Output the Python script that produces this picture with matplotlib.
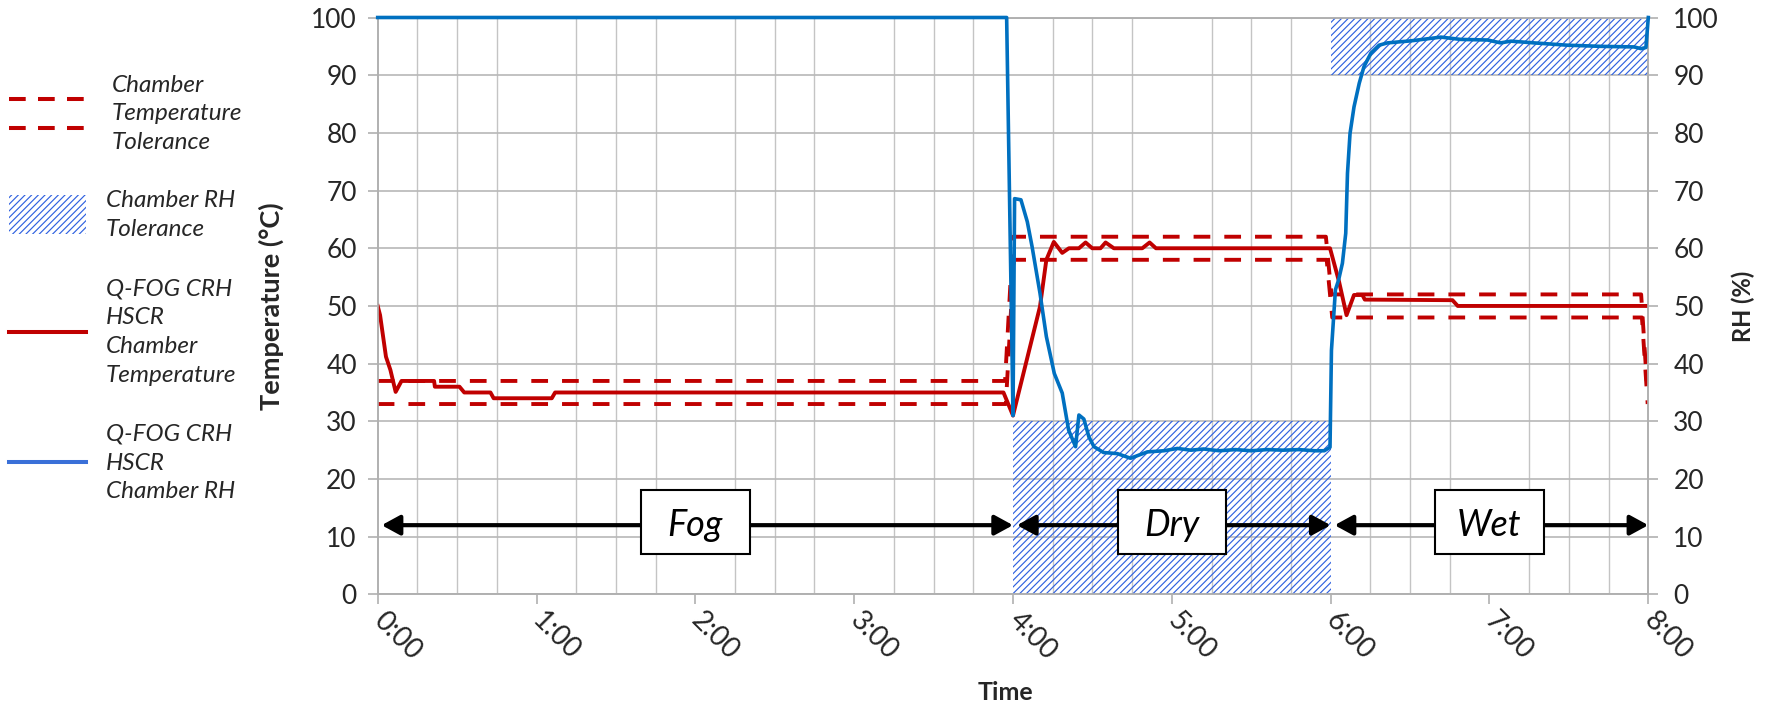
"""Q-FOG CRH HSCR chamber run: temperature and RH over a Fog / Dry / Wet cycle."""
import matplotlib
matplotlib.use("Agg")
import matplotlib.pyplot as plt
from matplotlib.lines import Line2D
from matplotlib.patches import Rectangle

plt.rcParams["font.family"] = ["Lato", "DejaVu Sans"]
plt.rcParams["hatch.linewidth"] = 0.85

# --- Data (hours, values) ---
temp_time = [0, 0.015, 0.052, 0.08, 0.113, 0.15, 0.355, 0.36, 0.515, 0.545, 0.71, 0.73,
             1.096, 1.117, 3.94, 4.0, 4.17, 4.21, 4.257, 4.31, 4.352, 4.415, 4.457, 4.499,
             4.551, 4.583, 4.635, 4.814, 4.86, 4.9, 5.996, 6.053, 6.1, 6.147, 6.2, 6.215,
             6.767, 6.8, 8.0]
temp_val = [50, 48.4, 41.2, 38.9, 35.1, 37, 37, 36, 36, 35, 35, 34,
            34, 35, 35, 31, 49.9, 58, 61.1, 59.2, 60, 60, 61, 60,
            60, 61, 60, 60, 61, 60, 60, 54.2, 48.4, 51.9, 51.9, 51.1,
            51, 50, 50]

tol_up_time = [0, 3.95, 4.0, 5.97, 6.005, 7.955, 7.99]
tol_up_val = [37, 37, 62, 62, 52, 52, 37]
tol_lo_time = [0, 3.955, 4.005, 5.975, 6.01, 7.96, 7.996]
tol_lo_val = [33, 33, 58, 58, 48, 48, 33]

rh_time = [0, 3.96, 3.995, 4.0, 4.01, 4.05, 4.09, 4.12, 4.17, 4.21, 4.26, 4.31, 4.35,
           4.394, 4.415, 4.446, 4.478, 4.51, 4.57, 4.657, 4.74, 4.846, 4.95, 5.035, 5.12,
           5.2, 5.3, 5.4, 5.5, 5.6, 5.7, 5.8, 5.9, 5.96, 5.996, 6.005, 6.03, 6.05, 6.074,
           6.095, 6.106, 6.122, 6.147, 6.18, 6.21, 6.253, 6.305, 6.358, 6.484, 6.52,
           6.694, 6.82, 6.988, 7.07, 7.135, 7.28, 7.49, 7.7, 7.91, 7.955, 7.985, 8.0]
rh_val = [100, 100, 40, 31, 68.6, 68.4, 64.6, 60.3, 52.2, 44.7, 38.3, 34.9, 28.5,
          25.6, 31.1, 30.4, 27.3, 25.6, 24.6, 24.4, 23.6, 24.7, 24.9, 25.3, 25.0,
          25.2, 24.9, 25.1, 24.9, 25.1, 25.0, 25.1, 24.9, 24.9, 25.5, 42.3, 52.8, 54.5, 57.4,
          62.6, 73, 79.9, 84.5, 88.6, 91.5, 93.8, 95.2, 95.6, 95.9, 96.0,
          96.6, 96.2, 96.1, 95.6, 95.9, 95.6, 95.2, 95.0, 94.9, 94.6, 94.8, 100]

# RH tolerance bands: (start h, end h, low %, high %)
rh_band_start = [4, 6]
rh_band_end = [6, 8]
rh_band_low = [0, 90]
rh_band_high = [30, 100]

phase_names = ["Fog", "Dry", "Wet"]
phase_start = [0, 4, 6]
phase_end = [4, 6, 8]
phase_arrow_y = 12

hour_labels = ["0:00", "1:00", "2:00", "3:00", "4:00", "5:00", "6:00", "7:00", "8:00"]

RED = "#c00000"
BLUE = "#0070c0"
HATCH = "#3062e0"
GRID = "#c4c4c4"
TXT = "#262626"

W, H = 1771, 705
fig = plt.figure(figsize=(W / 100, H / 100), dpi=100)
ax = fig.add_axes([377.7 / W, 1 - 594.4 / H, 1270.6 / W, 576.9 / H])
ax2 = ax.twinx()

ax.set_xlim(0, 8)
ax.set_ylim(0, 100)
ax2.set_ylim(0, 100)

# grid: horizontal every 10, vertical every 15 min
ax.set_yticks(range(0, 101, 10))
ax2.set_yticks(range(0, 101, 10))
ax.set_xticks(range(9))
ax.set_xticks([i * 0.25 for i in range(33)], minor=True)
ax.set_xticklabels(hour_labels, rotation=-45, rotation_mode="anchor",
                   ha="left", va="center", fontsize=20, color=TXT)
ax.grid(True, which="major", axis="y", color="#b8b8b8", lw=1.2, zorder=0)
ax.grid(True, which="minor", axis="x", color=GRID, lw=1.0, zorder=0)
ax.set_axisbelow(True)

for a in (ax, ax2):
    for s in a.spines.values():
        s.set_color("#b0b0b0")
        s.set_linewidth(1.2)
ax.tick_params(axis="y", length=7, width=1.2, color="#b0b0b0", pad=8,
               labelsize=19, labelcolor=TXT)
ax2.tick_params(axis="y", length=7, width=1.2, color="#b0b0b0", pad=11,
                labelsize=19, labelcolor=TXT)
ax.tick_params(axis="x", which="major", length=7, width=1.2, color="#b0b0b0", pad=9)
ax.tick_params(axis="x", which="minor", length=0)

# RH tolerance hatch (on RH axis)
for s, e, lo, hi in zip(rh_band_start, rh_band_end, rh_band_low, rh_band_high):
    ax2.fill_between([s, e], [lo, lo], [hi, hi], facecolor="none", edgecolor=HATCH,
                     hatch="/////", linewidth=0, zorder=1)

# temperature tolerance and temperature
dash = (0, (4.3, 3.6))
ax.plot(tol_up_time, tol_up_val, color=RED, lw=2.8, linestyle=dash, zorder=3)
ax.plot(tol_lo_time, tol_lo_val, color=RED, lw=2.8, linestyle=dash, zorder=3)
ax.plot(temp_time, temp_val, color=RED, lw=2.8, zorder=4)

# RH
ax2.plot(rh_time, rh_val, color=BLUE, lw=2.6, zorder=3, solid_joinstyle="round",
         clip_on=False)

# phase arrows and labels (on top axes so they sit above the hatch)
for name, s, e in zip(phase_names, phase_start, phase_end):
    ax2.annotate("", xy=(e, phase_arrow_y), xytext=(s + 0.025, phase_arrow_y),
                 arrowprops=dict(arrowstyle="<|-|>,head_length=0.55,head_width=0.3",
                                 color="black", lw=3, shrinkA=0, shrinkB=0,
                                 mutation_scale=20), zorder=5)
    mid = (s + e) / 2
    ax2.add_patch(Rectangle((mid - 0.342, 7.0), 0.684, 11.1, facecolor="white",
                            edgecolor="black", lw=1.5, zorder=6))
    ax2.text(mid, 10.2, name, ha="center", va="baseline", fontsize=26,
             style="italic", color="black", zorder=7)

# axis labels
ax.set_xlabel("Time", fontsize=18, fontweight="bold", color=TXT)
ax.xaxis.set_label_coords(0.4937, -0.1704)
ax.xaxis.label.set_va("center")
ax.set_ylabel("Temperature (°C)", fontsize=19.5, fontweight="bold", color=TXT)
ax.yaxis.set_label_coords(-0.0834, 0.5)
ax.yaxis.label.set_va("center")
ax2.set_ylabel("RH (%)", fontsize=17, fontweight="bold", color=TXT)
ax2.yaxis.set_label_coords(1.0745, 0.5)
ax2.yaxis.label.set_va("center")


# --- manual legend on the left (pixel positions) ---
def fx(x):
    return x / W


def fy(y):
    return 1 - y / H


for yy in (99.3, 128.3):
    fig.add_artist(Line2D([fx(9), fx(84)], [fy(yy)] * 2, color=RED, lw=2.9,
                          linestyle=(0, (4.15, 3.05))))
fig.add_artist(Rectangle((fx(9), fy(234)), 77 / W, 39 / H, facecolor="none",
                         edgecolor=HATCH, hatch="/////", lw=0))
fig.add_artist(Line2D([fx(9), fx(86)], [fy(331.7)] * 2, color=RED, lw=2.9))
fig.add_artist(Line2D([fx(9), fx(86)], [fy(462)] * 2, color="#3a70d8", lw=2.9))

legend_items = [
    (112, 114, "Chamber\nTemperature\nTolerance"),
    (106, 215, "Chamber RH\nTolerance"),
    (106, 332, "Q-FOG CRH\nHSCR\nChamber\nTemperature"),
    (106, 463, "Q-FOG CRH\nHSCR\nChamber RH"),
]
for x, y, label in legend_items:
    fig.text(fx(x), fy(y), label, ha="left", va="center", fontsize=17.5,
             style="italic", color=TXT, linespacing=1.46)

fig.savefig("out.png", dpi=100)
